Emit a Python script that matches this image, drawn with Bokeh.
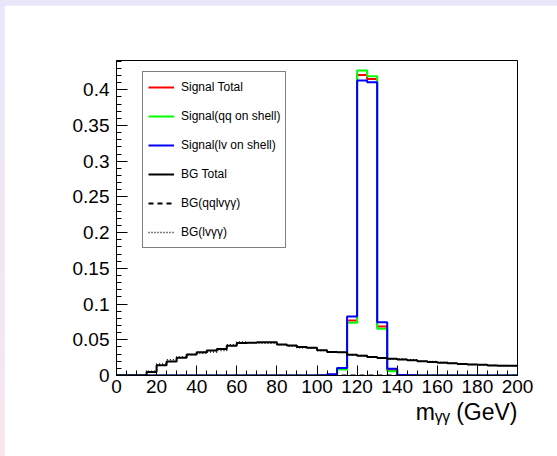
from bokeh.plotting import figure
from bokeh.models import (Range1d, SingleIntervalTicker, NumeralTickFormatter,
                          Legend, LegendItem, Title)
from bokeh.embed import file_html
from bokeh.resources import INLINE

# ---------------- data (5 GeV bins, 0-200 GeV) ----------------
bin_edges = [0, 5, 10, 15, 20, 25, 30, 35, 40, 45, 50, 55, 60, 65, 70, 75, 80,
             85, 90, 95, 100, 105, 110, 115, 120, 125, 130, 135, 140, 145, 150,
             155, 160, 165, 170, 175, 180, 185, 190, 195, 200]

sig_total = [0, 0, 0, 0, 0, 0, 0, 0, 0, 0, 0, 0, 0, 0, 0, 0, 0, 0, 0, 0,
             0.0004, 0.001, 0.0095, 0.077, 0.4206, 0.415, 0.0686, 0.0075, 0.0006, 0.0002,
             0, 0, 0, 0, 0, 0, 0, 0, 0, 0]
sig_qq = [0, 0, 0, 0, 0, 0, 0, 0, 0, 0, 0, 0, 0, 0, 0, 0, 0, 0, 0, 0,
          0.0003, 0.0008, 0.0085, 0.0738, 0.427, 0.419, 0.0654, 0.006, 0.0004, 0.0001,
          0, 0, 0, 0, 0, 0, 0, 0, 0, 0]
sig_lv = [0, 0, 0, 0, 0, 0, 0, 0, 0, 0, 0, 0, 0, 0, 0, 0, 0, 0, 0, 0,
          0.0005, 0.0017, 0.0105, 0.0826, 0.413, 0.4104, 0.0747, 0.0093, 0.0008, 0.0003,
          0, 0, 0, 0, 0, 0, 0, 0, 0, 0]
bg_total = [0, 0, 0, 0.005, 0.0145, 0.0195, 0.025, 0.0295, 0.0325, 0.035,
            0.037, 0.0415, 0.0455, 0.0458, 0.0465, 0.0465, 0.0435, 0.042, 0.040, 0.039,
            0.0355, 0.033, 0.0325, 0.029, 0.0275, 0.026, 0.0245, 0.0235, 0.0225, 0.0215,
            0.020, 0.019, 0.018, 0.017, 0.016, 0.0155, 0.015, 0.014, 0.0135, 0.0135]
bg_qqlv = [0, 0, 0, 0, 0, 0, 0, 0, 0, 0, 0, 0, 0, 0, 0, 0, 0, 0, 0, 0,
           0, 0, 0, 0, 0, 0, 0, 0, 0, 0, 0, 0, 0, 0, 0, 0, 0, 0, 0, 0]
bg_lv = [0, 0, 0, 0.006, 0.016, 0.022, 0.026, 0.0295, 0.031, 0.033,
         0.035, 0.043, 0.047, 0.046, 0.045, 0.045, 0.043, 0.041, 0.039, 0.038,
         0.035, 0.0325, 0.0325, 0.029, 0.028, 0.026, 0.024, 0.023, 0.023, 0.022,
         0.020, 0.0195, 0.0185, 0.017, 0.0165, 0.0155, 0.015, 0.0145, 0.014, 0.0135]

labels = ["Signal Total", "Signal(qq on shell)", "Signal(lv on shell)",
          "BG Total", "BG(qqlv\u03b3\u03b3)", "BG(lv\u03b3\u03b3)"]
x_title = "m\u1d67\u1d67 (GeV)"

FONT = "Liberation Sans"

p = figure(width=553, height=451, output_backend="svg", toolbar_location=None,
           tools="", x_range=Range1d(0, 200), y_range=Range1d(0, 0.441),
           min_border_left=112, min_border_right=40, min_border_top=55,
           min_border_bottom=81)
p.background_fill_color = "white"
p.border_fill_color = "white"
p.outline_line_color = "black"
p.outline_line_width = 1
p.xgrid.visible = False
p.ygrid.visible = False


def hist(vals, **kw):
    return p.step(x=bin_edges, y=list(vals) + [vals[-1]], mode="after", **kw)


r_bgqq = hist(bg_qqlv, line_color="black", line_width=2, line_dash="5 4")
r_bglv = hist(bg_lv, line_color="black", line_width=1.5, line_dash="1 2")
r_red = hist(sig_total, line_color="#ff0000", line_width=2)
r_green = hist(sig_qq, line_color="#00ff00", line_width=2)
r_blue = hist(sig_lv, line_color="#0000ff", line_width=2)
r_bg = hist(bg_total, line_color="black", line_width=2)

# axes
xa = p.xaxis[0]
xa.ticker = SingleIntervalTicker(interval=20, num_minor_ticks=4)
ya = p.yaxis[0]
ya.ticker = SingleIntervalTicker(interval=0.05, num_minor_ticks=5)
ya.formatter = NumeralTickFormatter(format="0.[00]")
for ax in (xa, ya):
    ax.axis_line_color = "black"
    ax.major_tick_line_color = "black"
    ax.minor_tick_line_color = "black"
    ax.major_tick_out = 0
    ax.minor_tick_out = 0
    ax.minor_tick_in = 5
    ax.major_label_text_font = FONT
    ax.major_label_text_font_size = "19px"
    ax.major_label_text_color = "black"
xa.major_tick_in = 10
ya.major_tick_in = 11
xa.major_label_standoff = 4
ya.major_label_standoff = 7

# x-axis title, right aligned under the axis
p.add_layout(Title(text=x_title, align="right", text_font=FONT,
                   text_font_size="23px", text_font_style="normal",
                   text_color="black", standoff=3, offset=0), "below")

# legend
legend = Legend(items=[LegendItem(label=labels[0], renderers=[r_red]),
                       LegendItem(label=labels[1], renderers=[r_green]),
                       LegendItem(label=labels[2], renderers=[r_blue]),
                       LegendItem(label=labels[3], renderers=[r_bg]),
                       LegendItem(label=labels[4], renderers=[r_bgqq]),
                       LegendItem(label=labels[5], renderers=[r_bglv])],
                location=(26, 127))
legend.label_text_font = FONT
legend.label_text_font_size = "12px"
legend.label_text_color = "black"
legend.glyph_width = 26
legend.glyph_height = 20
legend.label_height = 20
legend.spacing = 9
legend.padding = 5
legend.margin = 0
legend.label_standoff = 7
legend.border_line_color = "black"
legend.border_line_width = 1
legend.background_fill_color = "white"
legend.background_fill_alpha = 1
p.add_layout(legend, "center")

html = file_html(p, INLINE)
i = html.rfind("<body")
j = html.find(">", i)
html = (html[:i]
        + '<body style="margin:5px 0 0 4px;padding:0;'
          'background:linear-gradient(#e8e6f8,#f7e6ef) fixed;">'
        + html[j + 1:])
open("out.html", "w").write(html)
